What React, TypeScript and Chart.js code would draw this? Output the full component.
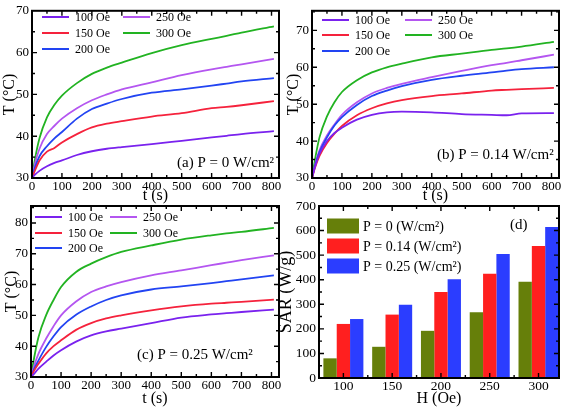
import React, { useEffect, useRef } from 'react';
import { Chart, registerables } from 'chart.js';

Chart.register(...registerables);

// ---------- data ----------
const TIME = [0, 10, 25, 50, 75, 100, 150, 200, 250, 300, 400, 500, 600, 650, 700, 808];
const FIELD_LABELS = ['100 Oe', '150 Oe', '200 Oe', '250 Oe', '300 Oe'];

// (a) P = 0 W/cm²
const A_100 = [30, 30.8, 31.7, 32.8, 33.6, 34.2, 35.5, 36.4, 37.0, 37.4, 38.1, 38.9, 39.7, 40.1, 40.5, 41.2];
const A_150 = [30, 31.8, 34.2, 36.3, 37.2, 38.5, 40.5, 42.1, 43.0, 43.6, 44.7, 45.5, 46.7, 47.0, 47.4, 48.4];
const A_200 = [30, 32.5, 35.2, 37.6, 39.5, 41.0, 44.2, 46.5, 47.8, 48.9, 50.4, 51.2, 52.1, 52.6, 53.1, 53.9];
const A_250 = [30, 33.5, 37.0, 40.5, 42.5, 44.2, 46.7, 48.6, 50.0, 51.2, 52.9, 54.6, 56.0, 56.6, 57.2, 58.5];
const A_300 = [30, 34.5, 39.5, 44.5, 47.5, 49.7, 52.7, 54.9, 56.4, 57.6, 59.9, 61.8, 63.3, 64.0, 64.8, 66.3];

// (b) P = 0.14 W/cm²
const B_100 = [30, 33.0, 36.5, 40.0, 42.2, 43.6, 45.8, 47.1, 47.8, 48.0, 47.8, 47.3, 47.1, 47.0, 47.5, 47.6];
const B_150 = [30, 32.8, 36.0, 39.5, 42.0, 44.1, 47.0, 48.9, 50.2, 51.1, 52.2, 52.9, 53.7, 53.9, 54.1, 54.4];
const B_200 = [30, 33.3, 37.0, 41.0, 44.2, 46.5, 49.8, 52.2, 53.7, 54.9, 56.6, 57.7, 58.6, 59.1, 59.5, 60.0];
const B_250 = [30, 33.5, 37.5, 41.5, 44.5, 47.1, 50.5, 52.9, 54.4, 55.5, 57.3, 59.0, 60.6, 61.2, 61.9, 63.4];
const B_300 = [30, 35.0, 41.0, 46.7, 50.5, 53.3, 56.5, 58.6, 60.0, 61.0, 62.7, 63.7, 64.7, 65.1, 65.6, 66.9];

// (c) P = 0.25 W/cm²
const C_100 = [30, 31.0, 32.7, 34.9, 37.0, 38.7, 41.5, 43.5, 44.8, 45.7, 47.5, 49.3, 50.3, 50.7, 51.1, 51.9];
const C_150 = [30, 32.0, 34.3, 37.6, 40.0, 41.9, 45.3, 47.5, 49.0, 50.0, 51.6, 52.9, 53.8, 54.1, 54.4, 55.1];
const C_200 = [30, 32.5, 35.4, 39.7, 43.2, 46.2, 50.2, 52.9, 55.0, 56.5, 58.4, 59.4, 60.5, 61.1, 61.7, 63.0];
const C_250 = [30, 33.5, 37.6, 42.4, 46.5, 50.0, 54.5, 57.6, 59.4, 60.8, 63.0, 64.6, 66.3, 67.1, 67.9, 69.5];
const C_300 = [30, 36.0, 43.0, 50.0, 55.0, 59.2, 64.1, 66.8, 68.9, 70.6, 72.7, 74.6, 76.0, 76.6, 77.1, 78.4];

const T_TICKS = [0, 100, 200, 300, 400, 500, 600, 700, 800];
const TEMP_TICKS_AB = [30, 40, 50, 60, 70];
const TEMP_TICKS_C = [30, 40, 50, 60, 70, 80];

// (d) SAR
const H_FIELDS = [100, 150, 200, 250, 300];
const SAR_P0 = [80, 127, 192, 268, 392];
const SAR_P014 = [220, 258, 350, 424, 537];
const SAR_P025 = [240, 298, 402, 505, 615];
const SAR_LABELS = ['P = 0 (W/cm²)', 'P = 0.14 (W/cm²)', 'P = 0.25 (W/cm²)'];
const SAR_TICKS = [0, 100, 200, 300, 400, 500, 600, 700];

// ---------- styles ----------
const LINE_COLORS = ['#7a22ee', '#f5223c', '#2244f2', '#b456f0', '#22b322'];
const BAR_COLORS = ['#667f0a', '#ff1f1f', '#2b3dff'];
const FONT = "'Liberation Serif', 'Times New Roman', Times, serif";
const CW = 567;
const CH = 408;

const framePlugin = {
  id: 'frameTicks',
  afterDatasetsDraw(chart: any) {
    const { ctx, chartArea: a } = chart;
    const xs = chart.scales.x;
    const ys = chart.scales.y;
    const major = 5;
    const minor = 3;
    ctx.save();
    ctx.strokeStyle = '#000';
    ctx.lineWidth = 1.4;
    ctx.beginPath();
    const dx = (v: number, len: number) => {
      const p = xs.getPixelForValue(v);
      if (p < a.left + 1 || p > a.right - 1) return;
      ctx.moveTo(p, a.bottom);
      ctx.lineTo(p, a.bottom - len);
      ctx.moveTo(p, a.top);
      ctx.lineTo(p, a.top + len);
    };
    const dy = (v: number, len: number) => {
      const p = ys.getPixelForValue(v);
      if (p < a.top + 1 || p > a.bottom - 1) return;
      ctx.moveTo(a.left, p);
      ctx.lineTo(a.left + len, p);
      ctx.moveTo(a.right, p);
      ctx.lineTo(a.right - len, p);
    };
    const xv = xs.ticks.map((t: any) => t.value);
    const yv = ys.ticks.map((t: any) => t.value);
    xv.forEach((v: number, i: number) => {
      dx(v, major);
      if (i < xv.length - 1) dx((v + xv[i + 1]) / 2, minor);
    });
    if (xv.length > 1) {
      const s = xv[1] - xv[0];
      dx(xv[0] - s / 2, minor);
      dx(xv[xv.length - 1] + s / 2, minor);
    }
    yv.forEach((v: number, i: number) => {
      dy(v, major);
      if (i < yv.length - 1) dy((v + yv[i + 1]) / 2, minor);
    });
    if (yv.length > 1) {
      const s = yv[1] - yv[0];
      dy(yv[yv.length - 1] + s / 2, minor);
    }
    ctx.stroke();
    ctx.lineWidth = 2;
    ctx.strokeRect(a.left, a.top, a.right - a.left, a.bottom - a.top);
    ctx.restore();
  },
};

const legendPlugin = {
  id: 'innerLegend',
  afterDatasetsDraw(chart: any, _args: any, o: any) {
    if (!o || !o.items) return;
    const ctx = chart.ctx;
    ctx.save();
    ctx.font = o.font;
    ctx.textBaseline = 'middle';
    ctx.textAlign = 'left';
    chart.data.datasets.forEach((ds: any, i: number) => {
      const it = o.items[i];
      if (!it) return;
      if (o.kind === 'line') {
        ctx.strokeStyle = ds.borderColor;
        ctx.lineWidth = 2;
        ctx.beginPath();
        ctx.moveTo(it.x, it.y);
        ctx.lineTo(it.x + o.swatchW, it.y);
        ctx.stroke();
      } else {
        ctx.fillStyle = ds.backgroundColor;
        ctx.fillRect(it.x, it.y - o.swatchH / 2, o.swatchW, o.swatchH);
      }
      ctx.fillStyle = '#000';
      ctx.fillText(ds.label, it.x + o.textGap, it.y + 1);
    });
    ctx.restore();
  },
};

const notePlugin = {
  id: 'panelNote',
  afterDatasetsDraw(chart: any, _args: any, o: any) {
    if (!o || !o.text) return;
    const ctx = chart.ctx;
    ctx.save();
    ctx.font = o.font;
    ctx.fillStyle = '#000';
    ctx.textBaseline = 'middle';
    ctx.textAlign = 'left';
    ctx.fillText(o.text, o.x, o.y);
    ctx.restore();
  },
};

type Area = { left: number; top: number; right: number; bottom: number };

function lineConfig(
  series: number[][],
  yTicks: number[],
  yMax: number,
  area: Area,
  yW: number,
  xH: number,
  legendItems: { x: number; y: number }[],
  note: { text: string; x: number; y: number }
): any {
  return {
    type: 'line',
    data: {
      datasets: series.map((vals, i) => ({
        label: FIELD_LABELS[i],
        data: TIME.map((t, j) => ({ x: t, y: vals[j] })),
        borderColor: LINE_COLORS[i],
        backgroundColor: LINE_COLORS[i],
        borderWidth: 1.8,
        pointRadius: 0,
        cubicInterpolationMode: 'monotone',
        fill: false,
      })),
    },
    options: {
      responsive: false,
      animation: false,
      events: [],
      layout: {
        padding: {
          left: area.left - yW,
          top: area.top,
          right: CW - area.right,
          bottom: CH - area.bottom - xH,
        },
      },
      plugins: {
        legend: { display: false },
        tooltip: { enabled: false },
        innerLegend: { kind: 'line', items: legendItems, font: `12px ${FONT}`, swatchW: 27, textGap: 33 },
        panelNote: { ...note, font: `15px ${FONT}` },
      },
      scales: {
        x: {
          type: 'linear',
          min: 0,
          max: 825,
          grid: { display: false, drawTicks: false },
          border: { display: false },
          afterBuildTicks: (s: any) => {
            s.ticks = T_TICKS.map((v) => ({ value: v }));
          },
          afterFit: (s: any) => {
            s.height = xH;
          },
          ticks: { autoSkip: false, maxRotation: 0, padding: 1, color: '#000', font: { family: FONT, size: 13 } },
          title: { display: true, text: 't (s)', color: '#000', padding: 0, font: { family: FONT, size: 16 } },
        },
        y: {
          type: 'linear',
          min: 30,
          max: yMax,
          grid: { display: false, drawTicks: false },
          border: { display: false },
          afterBuildTicks: (s: any) => {
            s.ticks = yTicks.map((v) => ({ value: v }));
          },
          afterFit: (s: any) => {
            s.width = yW;
          },
          ticks: { autoSkip: false, padding: 3, color: '#000', font: { family: FONT, size: 13 } },
          title: { display: true, text: 'T (°C)', color: '#000', padding: 0, font: { family: FONT, size: 16 } },
        },
      },
    },
    plugins: [framePlugin, legendPlugin, notePlugin],
  };
}

function barConfig(): any {
  const area = { left: 319, top: 206, right: 559, bottom: 378 };
  const yW = 44;
  const xH = 30;
  const sets = [SAR_P0, SAR_P014, SAR_P025];
  return {
    type: 'bar',
    data: {
      datasets: sets.map((vals, i) => ({
        label: SAR_LABELS[i],
        data: H_FIELDS.map((h, j) => ({ x: h, y: vals[j] })),
        backgroundColor: BAR_COLORS[i],
        borderColor: BAR_COLORS[i],
        borderWidth: 0,
        categoryPercentage: 0.82,
        barPercentage: 1.0,
      })),
    },
    options: {
      responsive: false,
      animation: false,
      events: [],
      layout: {
        padding: {
          left: area.left - yW,
          top: area.top,
          right: CW - area.right,
          bottom: CH - area.bottom - xH,
        },
      },
      plugins: {
        legend: { display: false },
        tooltip: { enabled: false },
        innerLegend: {
          kind: 'box',
          items: [
            { x: 327, y: 226 },
            { x: 327, y: 246 },
            { x: 327, y: 266 },
          ],
          font: `14px ${FONT}`,
          swatchW: 32,
          swatchH: 15,
          textGap: 36,
        },
        panelNote: { text: '(d)', x: 510, y: 225, font: `15px ${FONT}` },
      },
      scales: {
        x: {
          type: 'linear',
          min: 75,
          max: 321,
          offset: false,
          grid: { display: false, drawTicks: false },
          border: { display: false },
          afterBuildTicks: (s: any) => {
            s.ticks = H_FIELDS.map((v) => ({ value: v }));
          },
          afterFit: (s: any) => {
            s.height = xH;
          },
          ticks: { autoSkip: false, maxRotation: 0, padding: 0, color: '#000', font: { family: FONT, size: 13.5 } },
          title: { display: true, text: 'H (Oe)', color: '#000', padding: 0, font: { family: FONT, size: 16 } },
        },
        y: {
          type: 'linear',
          position: 'left',
          min: 0,
          max: 700,
          grid: { display: false, drawTicks: false },
          border: { display: false },
          afterBuildTicks: (s: any) => {
            s.ticks = SAR_TICKS.map((v) => ({ value: v }));
          },
          afterFit: (s: any) => {
            s.width = yW;
          },
          ticks: { autoSkip: false, padding: 3, color: '#000', font: { family: FONT, size: 13.5 } },
          title: { display: true, text: 'SAR (W/g)', color: '#000', padding: 0, font: { family: FONT, size: 18 } },
        },
      },
    },
    plugins: [framePlugin, legendPlugin, notePlugin],
  };
}

function legendRows(c1: number, c2: number, rows: number[]) {
  return [
    { x: c1, y: rows[0] },
    { x: c1, y: rows[1] },
    { x: c1, y: rows[2] },
    { x: c2, y: rows[0] },
    { x: c2, y: rows[1] },
  ];
}

export default function App() {
  const refA = useRef<HTMLCanvasElement>(null);
  const refB = useRef<HTMLCanvasElement>(null);
  const refC = useRef<HTMLCanvasElement>(null);
  const refD = useRef<HTMLCanvasElement>(null);

  useEffect(() => {
    const charts: Chart[] = [];
    charts.push(
      new Chart(
        refA.current!,
        lineConfig(
          [A_100, A_150, A_200, A_250, A_300],
          TEMP_TICKS_AB,
          70,
          { left: 32, top: 7, right: 279, bottom: 178 },
          32,
          27,
          legendRows(42, 123, [17, 33, 49]),
          { text: '(a) P = 0 W/cm²', x: 177, y: 163 }
        )
      )
    );
    charts.push(
      new Chart(
        refB.current!,
        lineConfig(
          [B_100, B_150, B_200, B_250, B_300],
          TEMP_TICKS_AB,
          75.3,
          { left: 312, top: 7, right: 559, bottom: 178 },
          28,
          27,
          legendRows(322, 405, [20, 35, 51]),
          { text: '(b) P = 0.14 W/cm²', x: 437, y: 155 }
        )
      )
    );
    charts.push(
      new Chart(
        refC.current!,
        lineConfig(
          [C_100, C_150, C_200, C_250, C_300],
          TEMP_TICKS_C,
          85.5,
          { left: 31, top: 206, right: 279, bottom: 377 },
          29,
          31,
          legendRows(35, 110, [217, 233, 248]),
          { text: '(c) P = 0.25 W/cm²', x: 137, y: 355 }
        )
      )
    );
    charts.push(new Chart(refD.current!, barConfig()));
    return () => charts.forEach((c) => c.destroy());
  }, []);

  const cs: React.CSSProperties = { position: 'absolute', left: 0, top: 0, width: CW, height: CH };
  return (
    <div style={{ position: 'absolute', left: 0, top: 0, width: CW, height: CH, background: '#fff' }}>
      <canvas ref={refA} width={CW} height={CH} style={cs} />
      <canvas ref={refB} width={CW} height={CH} style={cs} />
      <canvas ref={refC} width={CW} height={CH} style={cs} />
      <canvas ref={refD} width={CW} height={CH} style={cs} />
    </div>
  );
}
